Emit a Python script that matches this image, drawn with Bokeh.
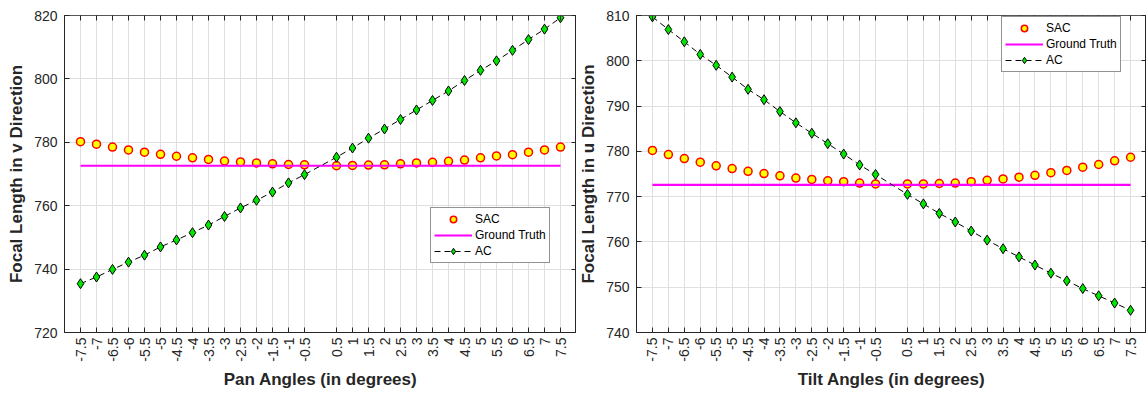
import math
from bokeh.plotting import figure
from bokeh.layouts import row
from bokeh.models import FixedTicker, LinearAxis, Range1d, Legend, LegendItem
from bokeh.embed import file_html
from bokeh.resources import INLINE

# ---------------- data ----------------
angles = [-7.5, -7, -6.5, -6, -5.5, -5, -4.5, -4, -3.5, -3, -2.5, -2, -1.5, -1, -0.5,
          0.5, 1, 1.5, 2, 2.5, 3, 3.5, 4, 4.5, 5, 5.5, 6, 6.5, 7, 7.5]
angle_labels = ["-7.5", "-7", "-6.5", "-6", "-5.5", "-5", "-4.5", "-4", "-3.5", "-3",
                "-2.5", "-2", "-1.5", "-1", "-0.5", "0.5", "1", "1.5", "2", "2.5",
                "3", "3.5", "4", "4.5", "5", "5.5", "6", "6.5", "7", "7.5"]

sac_pan = [780.2, 779.4, 778.5, 777.6, 776.9, 776.2, 775.6, 775.1, 774.6, 774.1,
           773.8, 773.5, 773.2, 773.0, 772.9, 772.6, 772.7, 772.8, 772.9, 773.2,
           773.5, 773.7, 774.0, 774.4, 775.1, 775.7, 776.1, 776.9, 777.6, 778.5]
ac_pan = [735.4, 737.5, 739.9, 742.2, 744.4, 747.0, 749.2, 751.5, 753.9, 756.6,
          759.3, 761.7, 764.3, 767.2, 769.8, 775.3, 778.2, 781.3, 784.2, 787.2,
          790.2, 793.2, 796.2, 799.5, 802.7, 805.7, 809.0, 812.4, 815.7, 819.3]

sac_tilt = [780.2, 779.3, 778.4, 777.6, 776.8, 776.2, 775.6, 775.1, 774.6, 774.1,
            773.8, 773.5, 773.3, 773.0, 772.8, 772.8, 772.8, 772.9, 773.0, 773.3,
            773.6, 773.9, 774.3, 774.7, 775.3, 775.8, 776.5, 777.1, 777.9, 778.7]
ac_tilt = [809.7, 806.9, 804.2, 801.4, 799.0, 796.4, 793.7, 791.4, 788.8, 786.3,
           784.0, 781.7, 779.4, 777.0, 774.9, 770.5, 768.4, 766.3, 764.4, 762.4,
           760.4, 758.5, 756.7, 754.9, 753.1, 751.4, 749.7, 748.1, 746.5, 744.9]

ground_truth = 772.6

y_ticks_pan = [720, 740, 760, 780, 800, 820]
y_ticks_tilt = [740, 750, 760, 770, 780, 790, 800, 810]

FONT = "Liberation Sans"
DARK = "#262626"


def tick_key(v):
    return int(v) if float(v).is_integer() else v


def make_panel(sac, ac, y_lo, y_hi, y_ticks, xlabel, ylabel, legend_xy,
               width, border_left):
    p = figure(width=width, height=396, output_backend="svg", toolbar_location=None,
               x_range=Range1d(-8, 8), y_range=Range1d(y_lo, y_hi),
               min_border_left=border_left, min_border_right=0,
               min_border_top=15, min_border_bottom=64)
    p.background_fill_color = "white"
    p.border_fill_color = "white"
    p.outline_line_color = DARK

    xt = FixedTicker(ticks=angles)
    yt = FixedTicker(ticks=y_ticks)
    overrides = {tick_key(a): lab for a, lab in zip(angles, angle_labels)}

    xa = p.xaxis[0]
    xa.ticker = xt
    xa.major_label_overrides = overrides
    xa.major_label_orientation = math.pi / 2
    xa.axis_label = xlabel
    ya = p.yaxis[0]
    ya.ticker = yt
    ya.axis_label = ylabel

    for ax in (xa, ya):
        ax.major_tick_in = 5
        ax.major_tick_out = 0
        ax.minor_tick_line_color = None
        ax.axis_line_color = DARK
        ax.major_tick_line_color = DARK
        ax.major_label_text_font = FONT
        ax.major_label_text_font_size = "14px"
        ax.major_label_text_color = DARK
        ax.axis_label_text_font = FONT
        ax.axis_label_text_font_size = "17px"
        ax.axis_label_text_font_style = "bold"
        ax.axis_label_text_color = DARK
        ax.axis_label_standoff = 5
    xa.major_label_standoff = 5
    ya.major_label_standoff = 7

    # box axes (top / right) with inward ticks, labels not drawn
    top = LinearAxis(ticker=xt, major_tick_in=5, major_tick_out=0,
                     major_label_text_color=None, major_label_standoff=0,
                     minor_tick_line_color=None, axis_line_color="#555555",
                     major_tick_line_color=DARK)
    right = LinearAxis(ticker=yt, major_tick_in=5, major_tick_out=0,
                       major_label_text_color=None, major_label_standoff=0,
                       minor_tick_line_color=None, axis_line_color=DARK,
                       major_tick_line_color=DARK)
    p.add_layout(top, "above")
    p.add_layout(right, "right")

    p.xgrid.ticker = xt
    p.ygrid.ticker = yt
    for g in (p.xgrid, p.ygrid):
        g.grid_line_color = "#dfdfdf"
        g.grid_line_width = 1

    r_sac = p.scatter(angles, sac, marker="circle", size=8, fill_color="#ffff00",
                      line_color="#ff0000", line_width=1.5)
    r_gt = p.line(angles, [ground_truth] * len(angles), line_color="#ff00ff",
                  line_width=2.2)
    r_acl = p.line(angles, ac, line_color="black", line_dash="6 4", line_width=1)
    r_acm = p.scatter(angles, ac, marker="diamond", size=10, fill_color="#00e600",
                      line_color="black", line_width=1)

    legend = Legend(items=[LegendItem(label="SAC", renderers=[r_sac]),
                           LegendItem(label="Ground Truth", renderers=[r_gt]),
                           LegendItem(label="AC", renderers=[r_acl, r_acm])],
                    location=legend_xy)
    legend.label_text_font = FONT
    legend.label_text_font_size = "12px"
    legend.label_text_color = "black"
    legend.border_line_color = DARK
    legend.border_line_width = 1
    legend.background_fill_color = "white"
    legend.background_fill_alpha = 1
    legend.padding = 3
    legend.spacing = 0
    legend.margin = 0
    legend.glyph_width = 38
    legend.glyph_height = 16
    legend.label_height = 16
    legend.label_standoff = 3
    p.add_layout(legend)
    return p


p1 = make_panel(sac_pan, ac_pan, 720, 820, y_ticks_pan, "Pan Angles (in degrees)",
                "Focal Length in v Direction", (366, 69), 576, 64)
p2 = make_panel(sac_tilt, ac_tilt, 740, 810, y_ticks_tilt, "Tilt Angles (in degrees)",
                "Focal Length in u Direction", (365, 260), 570, 60)

layout = row(p1, p2)
open("out.html", "w").write(file_html(layout, INLINE))
